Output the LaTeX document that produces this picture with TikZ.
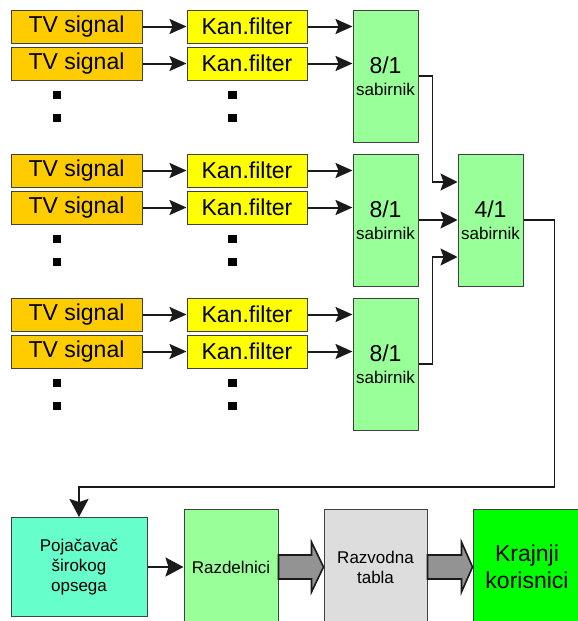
\documentclass[tikz,border=0pt]{standalone}
\usepackage{fontspec}
\setmainfont{Liberation Sans}
\usetikzlibrary{arrows.meta,calc}
\definecolor{tvorange}{HTML}{FFCC00}
\definecolor{kanyellow}{HTML}{FFFF00}
\definecolor{lgreen}{HTML}{99FF99}
\definecolor{aqua}{HTML}{66FFCC}
\definecolor{lgray}{HTML}{DDDDDD}
\definecolor{bgreen}{HTML}{00FF00}
\definecolor{agray}{HTML}{939393}
\definecolor{edge}{HTML}{404040}
\definecolor{lineblack}{HTML}{1A1A1A}
\newcommand\ftbig{\fontsize{23}{27}\selectfont}
\newcommand\ftmid{\fontsize{17}{20}\selectfont}
\begin{document}
\begin{tikzpicture}[x=1pt,y=-1pt,
  box/.style={draw=edge,line width=1pt,inner sep=0pt,align=center,text=black},
  tvbox/.style={box,fill=tvorange,minimum width=131pt,minimum height=33pt,font=\ftbig},
  kanbox/.style={box,fill=kanyellow,minimum width=120pt,minimum height=33pt,font=\ftbig},
  combox/.style={box,fill=lgreen,minimum width=65pt,minimum height=132pt,font=\ftmid},
  dotbox/.style={fill=black,inner sep=0pt,minimum size=8.5pt},
  arr/.style={line width=2pt,draw=lineblack,-{Stealth[length=17pt,width=15pt,inset=3pt]}},
  conn/.style={line width=1.8pt,draw=lineblack},
  arrb/.style={line width=1.8pt,draw=lineblack,-{Stealth[length=18pt,width=19pt,inset=3pt]}},
  blockarrow/.style={fill=agray,draw=lineblack,line width=1.6pt,line join=miter}
]
\useasboundingbox (0,0) rectangle (578,621);

\foreach \g [evaluate=\g as \o using (\g-1)*144] in {1,2,3} {
  \node[tvbox] (tv\g a) at (76.5,26.5+\o) {TV signal};
  \node[tvbox] (tv\g b) at (76.5,63.5+\o) {TV signal};
  \node[kanbox] (kf\g a) at (247,26.5+\o) {Kan.filter};
  \node[kanbox] (kf\g b) at (247,63.5+\o) {Kan.filter};
  \node[combox] (c\g) at (385.5,76+\o) {{\ftbig 8/1}\\[2pt]sabirnik};
  \node[dotbox] (dt\g a) at (57,95+\o) {};
  \node[dotbox] (dt\g b) at (57,118+\o) {};
  \node[dotbox] (dk\g a) at (232.5,95+\o) {};
  \node[dotbox] (dk\g b) at (232.5,118+\o) {};
  \draw[arr] (tv\g a) -- (kf\g a);
  \draw[arr] (tv\g b) -- (kf\g b);
  \draw[arr] (kf\g a.east) -- (kf\g a.east -| c\g.west);
  \draw[arr] (kf\g b.east) -- (kf\g b.east -| c\g.west);
}

\node[combox] (s4) at (490.5,220) {{\ftbig 4/1}\\[2pt]sabirnik};

\draw[conn,-{Stealth[length=17pt,width=17pt,inset=3pt]}] (c1.east) -- ++(14,0) |- ([yshift=38pt]s4.west);
\draw[conn,-{Stealth[length=17pt,width=17pt,inset=3pt]}] (c2.east) -- (s4.west);
\draw[conn,-{Stealth[length=17pt,width=17pt,inset=3pt]}] (c3.east) -- ++(14,0) |- ([yshift=-37pt]s4.west);

% bottom row
\node[box,fill=aqua,minimum width=136pt,minimum height=99pt,font=\ftmid] (amp) at (79,567) {Poja\v{c}ava\v{c}\\\v{s}irokog\\opsega};
\node[box,fill=lgreen,minimum width=94pt,minimum height=116pt,font=\ftmid] (razd) at (231,567) {Razdelnici};
\node[box,fill=lgray,minimum width=103pt,minimum height=116pt,font=\ftmid] (razv) at (375.5,567) {Razvodna\\tabla};
\node[box,fill=bgreen,minimum width=108pt,minimum height=116pt,font=\ftbig] (kraj) at (527,567) {Krajnji\\korisnici};

\draw[arrb] (s4.east) -- ++(31,0) -- ++(0,267) -| (amp.north);
\draw[arrb] (amp.east) -- (razd.west);

\draw[blockarrow] ([yshift=12pt]razd.east) -- ([yshift=12pt,xshift=-12pt]razv.west)
  -- ([yshift=25pt,xshift=-12pt]razv.west) -- (razv.west)
  -- ([yshift=-25pt,xshift=-12pt]razv.west) -- ([yshift=-12pt,xshift=-12pt]razv.west)
  -- ([yshift=-12pt]razd.east) -- cycle;
\draw[blockarrow] ([yshift=12pt]razv.east) -- ([yshift=12pt,xshift=-11pt]kraj.west)
  -- ([yshift=25pt,xshift=-11pt]kraj.west) -- (kraj.west)
  -- ([yshift=-25pt,xshift=-11pt]kraj.west) -- ([yshift=-12pt,xshift=-11pt]kraj.west)
  -- ([yshift=-12pt]razv.east) -- cycle;
\end{tikzpicture}
\end{document}
